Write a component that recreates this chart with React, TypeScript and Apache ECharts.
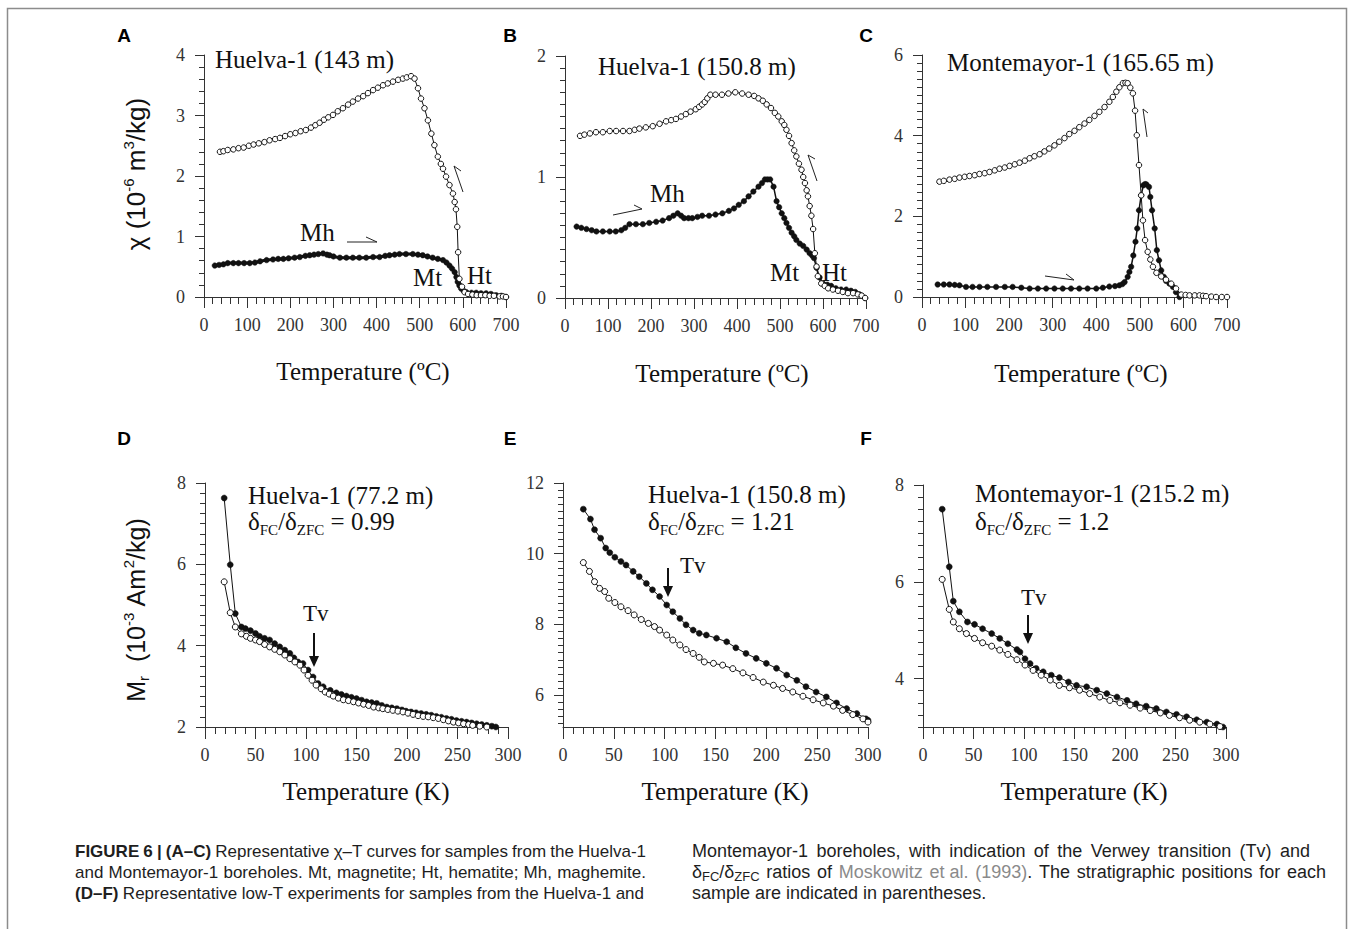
import React, { useEffect, useRef } from "react";
import * as echarts from "echarts";

const SERIF = "'Liberation Serif', 'Times New Roman', serif";
const SANS = "'Liberation Sans', Arial, Helvetica, sans-serif";
const AX = "#333";
const INK = "#111";

// ---------- tick labels ----------
const aYTicks = [0, 1, 2, 3, 4];
const bYTicks = [0, 1, 2];
const cYTicks = [0, 2, 4, 6];
const dYTicks = [2, 4, 6, 8];
const eYTicks = [6, 8, 10, 12];
const fYTicks = [4, 6, 8];

// ---------- panel A : Huelva-1 (143 m) ----------
const aCooling: [number, number][] = [
  [37,2.40],[45,2.41],[55,2.43],[68,2.44],[80,2.46],[92,2.47],[104,2.50],[115,2.52],[127,2.54],[140,2.56],
  [152,2.59],[165,2.61],[176,2.63],[188,2.66],[200,2.69],[212,2.71],[224,2.74],[236,2.76],[248,2.80],[258,2.84],
  [268,2.88],[278,2.93],[288,2.97],[299,3.01],[310,3.07],[322,3.12],[334,3.18],[345,3.23],[357,3.28],[369,3.32],
  [380,3.37],[392,3.42],[403,3.46],[415,3.50],[426,3.53],[438,3.56],[450,3.59],[461,3.61],[470,3.63],[480,3.65],
  [488,3.61],[496,3.45],[503,3.28],[511,3.12],[519,2.92],[527,2.70],[534,2.51],[542,2.32],[549,2.20],[554,2.12],
  [561,1.99],[569,1.85],[577,1.71],[581,1.57],[584,1.45],[587,1.16],[589,0.74],[592,0.30],[598,0.17],[604,0.08],
  [612,0.05],[622,0.04],[632,0.03],[642,0.03],[652,0.03],[662,0.02],[672,0.02],[685,0.01],[693,0.01],[700,0.0]
];
const aHeating: [number, number][] = [
  [25,0.52],[35,0.53],[45,0.54],[55,0.56],[68,0.56],[80,0.56],[93,0.56],[106,0.56],[118,0.57],[130,0.59],
  [145,0.61],[160,0.62],[172,0.63],[184,0.63],[196,0.64],[210,0.65],[222,0.66],[235,0.68],[245,0.69],[255,0.70],
  [265,0.71],[276,0.72],[285,0.70],[291,0.69],[300,0.67],[315,0.65],[330,0.65],[345,0.65],[360,0.65],[376,0.65],
  [392,0.66],[407,0.66],[420,0.68],[430,0.69],[442,0.70],[453,0.71],[468,0.71],[484,0.71],[496,0.70],[507,0.69],
  [518,0.67],[530,0.65],[542,0.63],[554,0.61],[562,0.57],[569,0.52],[575,0.47],[581,0.41],[585,0.33],[588,0.25],
  [592,0.19],[596,0.14],[602,0.10],[608,0.08],[620,0.07],[631,0.07],[642,0.06],[654,0.06],[665,0.05],[677,0.03],
  [689,0.02],[700,0.0]
];

// ---------- panel B : Huelva-1 (150.8 m) ----------
const bCooling: [number, number][] = [
  [35,1.34],[45,1.35],[58,1.36],[72,1.37],[88,1.37],[104,1.38],[119,1.38],[135,1.38],[150,1.38],[162,1.39],
  [173,1.40],[188,1.41],[204,1.42],[220,1.44],[235,1.46],[247,1.47],[258,1.48],[270,1.50],[281,1.52],[292,1.54],
  [304,1.56],[312,1.58],[319,1.60],[325,1.62],[331,1.65],[338,1.68],[350,1.68],[365,1.68],[380,1.69],[396,1.70],
  [412,1.69],[427,1.68],[440,1.67],[450,1.65],[460,1.63],[469,1.60],[479,1.57],[488,1.53],[496,1.50],[504,1.46],
  [510,1.43],[515,1.39],[521,1.34],[527,1.28],[533,1.22],[538,1.17],[544,1.11],[550,1.06],[554,1.00],[558,0.95],
  [562,0.89],[565,0.84],[569,0.76],[573,0.68],[577,0.57],[581,0.37],[585,0.26],[588,0.18],[596,0.12],[604,0.10],
  [612,0.08],[623,0.07],[635,0.06],[646,0.05],[658,0.04],[670,0.04],[681,0.03],[690,0.02],[698,0.0]
];
const bHeating: [number, number][] = [
  [27,0.59],[38,0.58],[50,0.57],[62,0.56],[73,0.55],[88,0.55],[104,0.55],[118,0.55],[131,0.56],[140,0.58],
  [150,0.61],[165,0.61],[181,0.61],[196,0.62],[212,0.63],[227,0.64],[242,0.66],[252,0.68],[262,0.70],[270,0.68],
  [277,0.66],[287,0.66],[296,0.66],[308,0.67],[319,0.68],[335,0.68],[350,0.69],[366,0.70],[381,0.72],[393,0.74],
  [404,0.77],[416,0.80],[427,0.84],[438,0.88],[450,0.92],[458,0.95],[465,0.98],[471,0.98],[477,0.98],[485,0.92],
  [492,0.80],[498,0.75],[504,0.70],[510,0.66],[515,0.62],[521,0.58],[527,0.54],[533,0.51],[538,0.48],[546,0.45],
  [554,0.43],[562,0.40],[569,0.37],[575,0.35],[579,0.33],[585,0.25],[592,0.17],[600,0.12],[610,0.11],[619,0.10],
  [630,0.08],[642,0.07],[654,0.07],[665,0.06],[675,0.05],[685,0.03],[698,0.0]
];

// ---------- panel C : Montemayor-1 (165.65 m) ----------
const cCooling: [number, number][] = [
  [40,2.86],[50,2.88],[63,2.91],[75,2.93],[86,2.96],[98,2.98],[109,3.00],[121,3.02],[132,3.05],[144,3.07],
  [155,3.10],[167,3.14],[178,3.18],[190,3.21],[201,3.25],[213,3.29],[224,3.33],[236,3.38],[247,3.44],[258,3.49],
  [270,3.54],[281,3.61],[292,3.68],[304,3.76],[315,3.85],[327,3.94],[338,4.04],[350,4.12],[361,4.21],[373,4.30],
  [384,4.39],[396,4.49],[407,4.59],[419,4.71],[430,4.84],[438,4.96],[446,5.09],[453,5.20],[461,5.30],[467,5.31],
  [472,5.30],[478,5.19],[484,5.05],[489,4.62],[493,4.01],[498,3.27],[503,2.52],[507,1.90],[512,1.41],[518,1.12],
  [524,0.93],[530,0.75],[538,0.60],[549,0.51],[560,0.43],[572,0.33],[583,0.21],[595,0.06],[605,0.05],[614,0.04],
  [626,0.04],[637,0.04],[645,0.03],[652,0.02],[664,0.01],[675,0.0],[688,0.0],[700,0.0]
];
const cHeating: [number, number][] = [
  [36,0.31],[50,0.31],[63,0.31],[75,0.30],[86,0.29],[101,0.25],[116,0.25],[132,0.25],[150,0.25],[170,0.25],
  [190,0.25],[208,0.25],[228,0.23],[247,0.21],[266,0.21],[285,0.21],[304,0.21],[323,0.21],[342,0.21],[361,0.21],
  [380,0.21],[400,0.21],[415,0.23],[430,0.26],[443,0.27],[453,0.29],[460,0.32],[465,0.37],[472,0.50],[476,0.62],
  [480,0.75],[485,1.03],[490,1.37],[494,1.70],[498,2.15],[503,2.52],[508,2.77],[512,2.80],[515,2.79],[521,2.73],
  [524,2.48],[528,2.15],[534,1.70],[539,1.16],[544,0.91],[549,0.66],[555,0.50],[560,0.40],[568,0.33],[576,0.25],
  [583,0.12],[591,0.0]
];

// ---------- panel D : Huelva-1 (77.2 m) ----------
const dFC: [number, number][] = [
  [19,7.63],[25,5.99],[30,4.79],[36,4.46],[40,4.42],[45,4.37],[50,4.30],[54,4.23],[59,4.18],[64,4.14],
  [69,4.05],[74,3.97],[79,3.89],[84,3.81],[88,3.70],[92,3.60],[97,3.56],[102,3.40],[107,3.23],[112,3.07],
  [117,2.99],[124,2.90],[130,2.84],[135,2.80],[140,2.76],[145,2.73],[150,2.70],[155,2.66],[160,2.62],[165,2.60],
  [170,2.58],[175,2.53],[180,2.49],[185,2.47],[190,2.45],[195,2.42],[199,2.39],[204,2.37],[209,2.35],[214,2.33],
  [219,2.31],[224,2.29],[229,2.26],[234,2.24],[239,2.21],[244,2.19],[249,2.16],[254,2.14],[259,2.12],[264,2.10],
  [269,2.08],[274,2.06],[279,2.04],[284,2.02],[288,2.00]
];
const dZFC: [number, number][] = [
  [19,5.57],[25,4.81],[30,4.46],[36,4.29],[41,4.23],[45,4.18],[50,4.14],[54,4.10],[59,4.03],[64,3.97],
  [69,3.91],[74,3.85],[79,3.77],[84,3.68],[89,3.60],[94,3.52],[98,3.40],[102,3.27],[106,3.15],[110,3.03],
  [115,2.94],[119,2.86],[123,2.81],[127,2.76],[132,2.71],[137,2.67],[142,2.65],[147,2.62],[152,2.59],[157,2.56],
  [162,2.53],[167,2.49],[172,2.47],[176,2.45],[181,2.43],[186,2.41],[191,2.39],[196,2.37],[201,2.34],[206,2.31],
  [211,2.28],[216,2.26],[221,2.25],[226,2.23],[231,2.21],[236,2.18],[241,2.15],[246,2.12],[251,2.10],[256,2.08],
  [261,2.06],[265,2.04],[272,2.02],[279,2.00]
];

// ---------- panel E : Huelva-1 (150.8 m) ----------
const eFC: [number, number][] = [
  [20,11.26],[27,10.98],[31,10.68],[37,10.44],[42,10.16],[46,10.03],[51,9.90],[57,9.78],[62,9.68],[69,9.50],
  [75,9.35],[82,9.16],[88,8.98],[95,8.79],[102,8.55],[108,8.36],[115,8.17],[121,7.99],[128,7.84],[134,7.75],
  [141,7.70],[151,7.61],[161,7.51],[170,7.34],[180,7.18],[190,7.04],[200,6.90],[210,6.76],[220,6.57],[230,6.42],
  [239,6.24],[249,6.09],[259,5.95],[269,5.78],[279,5.62],[289,5.48],[298,5.33],[300,5.29]
];
const eZFC: [number, number][] = [
  [20,9.75],[26,9.50],[31,9.21],[36,9.02],[41,8.93],[45,8.74],[51,8.62],[57,8.50],[64,8.39],[70,8.27],
  [77,8.14],[84,8.03],[90,7.94],[95,7.84],[102,7.70],[108,7.56],[115,7.42],[121,7.29],[128,7.18],[134,7.07],
  [139,6.94],[148,6.90],[157,6.85],[167,6.75],[177,6.63],[187,6.50],[197,6.37],[207,6.28],[216,6.19],[226,6.09],
  [236,5.97],[246,5.87],[256,5.78],[266,5.69],[275,5.57],[285,5.45],[295,5.33],[300,5.24]
];

// ---------- panel F : Montemayor-1 (215.2 m) ----------
const fFC: [number, number][] = [
  [19,7.50],[26,6.31],[30,5.60],[36,5.38],[44,5.17],[51,5.12],[59,5.03],[68,4.93],[76,4.83],[84,4.72],
  [93,4.60],[96,4.55],[101,4.41],[106,4.31],[112,4.21],[119,4.14],[127,4.07],[135,4.02],[144,3.93],[152,3.86],
  [162,3.83],[172,3.76],[182,3.69],[192,3.62],[202,3.55],[211,3.48],[221,3.43],[231,3.38],[241,3.31],[251,3.26],
  [261,3.21],[271,3.15],[281,3.10],[291,3.06],[297,3.00]
];
const fZFC: [number, number][] = [
  [19,6.05],[26,5.43],[30,5.17],[36,5.03],[43,4.93],[51,4.83],[59,4.74],[68,4.67],[76,4.59],[84,4.50],
  [93,4.39],[101,4.28],[109,4.17],[117,4.07],[126,3.97],[135,3.86],[145,3.81],[155,3.76],[165,3.69],[175,3.62],
  [185,3.55],[195,3.50],[205,3.45],[215,3.39],[225,3.34],[235,3.29],[244,3.24],[254,3.19],[264,3.14],[274,3.10],
  [284,3.06],[294,3.01]
];

// ---------- caption ----------
const captionLines: { x: number; y: number; end: number | null; size: number; words: string[] }[] = [
  { x: 75, y: 851, end: 646, size: 17, words: ["{b|FIGURE}", "{b|6}", "{b||}", "{b|(A–C)}", ..."Representative χ–T curves for samples from the Huelva-1".split(" ")] },
  { x: 75, y: 872, end: 646, size: 17, words: "and Montemayor-1 boreholes. Mt, magnetite; Ht, hematite; Mh, maghemite.".split(" ") },
  { x: 75, y: 893, end: 644, size: 17, words: ["{b|(D–F)}", ..."Representative low-T experiments for samples from the Huelva-1 and".split(" ")] },
  { x: 692, y: 851, end: 1310, size: 18, words: "Montemayor-1 boreholes, with indication of the Verwey transition (Tv) and".split(" ") },
  { x: 692, y: 872, end: 1326, size: 18, words: ["δ{s|FC}/δ{s|ZFC}", "ratios", "of", "{g|Moskowitz}", "{g|et al.}", "{g|(1993)}.", ..."The stratigraphic positions for each".split(" ")] },
  { x: 692, y: 893, end: null, size: 18, words: "sample are indicated in parentheses.".split(" ") },
];

type Panel = {
  grid: { left: number; top: number; width: number; height: number };
  xMax: number; xStep: number; xMajorLen: number;
  yMin: number; yMax: number; yTicks: number[]; yMinorStep: number;
  open: [number, number][]; filled: [number, number][];
  sym: number; filledWidth: number;
};

const PANELS: Panel[] = [
  { grid: { left: 204, top: 55, width: 302, height: 242 }, xMax: 700, xStep: 100, xMajorLen: 11,
    yMin: 0, yMax: 4, yTicks: aYTicks, yMinorStep: 0.2, open: aCooling, filled: aHeating, sym: 5.5, filledWidth: 3 },
  { grid: { left: 565, top: 56, width: 301, height: 242 }, xMax: 700, xStep: 100, xMajorLen: 11,
    yMin: 0, yMax: 2, yTicks: bYTicks, yMinorStep: 0.1, open: bCooling, filled: bHeating, sym: 5.5, filledWidth: 1.5 },
  { grid: { left: 922, top: 55, width: 305, height: 242 }, xMax: 700, xStep: 100, xMajorLen: 11,
    yMin: 0, yMax: 6, yTicks: cYTicks, yMinorStep: 0.2, open: cCooling, filled: cHeating, sym: 5.5, filledWidth: 1.5 },
  { grid: { left: 205, top: 483, width: 303, height: 244 }, xMax: 300, xStep: 50, xMajorLen: 12,
    yMin: 2, yMax: 8, yTicks: dYTicks, yMinorStep: 0.25, open: dZFC, filled: dFC, sym: 6, filledWidth: 1 },
  { grid: { left: 563, top: 483, width: 305, height: 244 }, xMax: 300, xStep: 50, xMajorLen: 12,
    yMin: 5.1, yMax: 12, yTicks: eYTicks, yMinorStep: 0.2, open: eZFC, filled: eFC, sym: 6, filledWidth: 1 },
  { grid: { left: 923, top: 485, width: 303, height: 242 }, xMax: 300, xStep: 50, xMajorLen: 12,
    yMin: 3, yMax: 8, yTicks: fYTicks, yMinorStep: 0.25, open: fZFC, filled: fFC, sym: 6, filledWidth: 1 },
];

function minorValues(min: number, max: number, step: number): number[] {
  const out: number[] = [];
  const start = Math.ceil(min / step - 1e-9) * step;
  for (let v = start; v <= max + 1e-9; v += step) out.push(Math.round(v * 1000) / 1000);
  return out;
}

const CAP_COLOR = "#1e1e1e";
function capFonts(size: number): Record<string, string> {
  const sub = Math.round(size * 0.7);
  return {
    "": `${size}px ${SANS}`,
    b: `bold ${size}px ${SANS}`,
    s: `${sub}px ${SANS}`,
    g: `${size}px ${SANS}`,
  };
}
let measureCtx: CanvasRenderingContext2D | null = null;
function getCtx(): CanvasRenderingContext2D {
  if (!measureCtx) measureCtx = document.createElement("canvas").getContext("2d");
  return measureCtx as CanvasRenderingContext2D;
}
function measureWord(word: string, fonts: Record<string, string>): number {
  const ctx = getCtx();
  const re = /\{(\w+)\|([^}]*)\}|([^{]+)/g;
  let m: RegExpExecArray | null;
  let w = 0;
  while ((m = re.exec(word))) {
    const style = m[1] || "";
    const text = m[1] ? m[2] : m[3];
    ctx.font = fonts[style] || fonts[""];
    w += ctx.measureText(text).width;
  }
  return w;
}

function buildCaption(): any[] {
  const els: any[] = [];
  const ctx = getCtx();
  captionLines.forEach((line) => {
    const size = line.size;
    const sub = Math.round(size * 0.7);
    const fonts = capFonts(size);
    const rich = {
      b: { fontFamily: SANS, fontSize: size, fontWeight: "bold", fill: CAP_COLOR },
      s: { fontFamily: SANS, fontSize: sub, verticalAlign: "bottom", fill: CAP_COLOR },
      g: { fontFamily: SANS, fontSize: size, fill: "#8a8a8a" },
    };
    ctx.font = fonts[""];
    const space = ctx.measureText(" ").width;
    const widths = line.words.map((w) => measureWord(w, fonts));
    const total = widths.reduce((a, b) => a + b, 0);
    const gaps = line.words.length - 1;
    const gap = line.end != null && gaps > 0 ? (line.end - line.x - total) / gaps : space;
    let x = line.x;
    line.words.forEach((w, k) => {
      els.push({
        type: "text", x, y: line.y, silent: true, z: 10,
        style: { text: w, fontFamily: SANS, fontSize: size, lineHeight: 22, fill: CAP_COLOR, align: "left", verticalAlign: "middle", rich },
      });
      x += widths[k] + gap;
    });
  });
  return els;
}

function buildOption() {
  const grid: any[] = [];
  const xAxis: any[] = [];
  const yAxis: any[] = [];
  const series: any[] = [];
  const lineStyle = { color: AX, width: 1 };

  PANELS.forEach((p, i) => {
    grid.push({ ...p.grid, containLabel: false });
    xAxis.push({
      type: "value", gridIndex: i, min: 0, max: p.xMax, interval: p.xStep,
      axisLine: { show: true, onZero: false, lineStyle },
      axisTick: { show: true, length: p.xMajorLen, lineStyle },
      minorTick: { show: true, splitNumber: 5, length: 7, lineStyle },
      splitLine: { show: false }, minorSplitLine: { show: false },
      axisLabel: { fontFamily: SERIF, fontSize: 18, color: "#333", margin: 19 },
    });
    yAxis.push({
      type: "value", gridIndex: i, position: "left", offset: 0, min: p.yMin, max: p.yMax,
      axisLine: { show: true, onZero: false, lineStyle },
      axisTick: { show: true, length: 9, lineStyle, customValues: p.yTicks },
      axisLabel: { fontFamily: SERIF, fontSize: 18, color: "#333", margin: 19, customValues: p.yTicks },
      splitLine: { show: false },
    });
    yAxis.push({
      type: "value", gridIndex: i, position: "left", offset: 0, min: p.yMin, max: p.yMax,
      axisLine: { show: false },
      axisTick: { show: true, length: 5, lineStyle, customValues: minorValues(p.yMin, p.yMax, p.yMinorStep) },
      axisLabel: { show: false },
      splitLine: { show: false },
    });
    series.push({
      type: "line", xAxisIndex: i, yAxisIndex: 2 * i, data: p.filled,
      symbol: "circle", symbolSize: p.sym, showSymbol: true, silent: true,
      lineStyle: { color: INK, width: p.filledWidth },
      itemStyle: { color: INK, borderColor: INK, borderWidth: 0.5 }, z: 3,
    });
    series.push({
      type: "line", xAxisIndex: i, yAxisIndex: 2 * i, data: p.open,
      symbol: "circle", symbolSize: p.sym, showSymbol: true, silent: true,
      lineStyle: { color: INK, width: 1 },
      itemStyle: { color: "#fff", borderColor: INK, borderWidth: 1 }, z: 4,
    });
  });

  const T = (x: number, y: number, text: string, size: number, extra: any = {}) => ({
    type: "text", x, y, silent: true, z: 10,
    style: {
      text, fontFamily: SERIF, fontSize: size, fill: INK,
      align: "left", verticalAlign: "middle", ...extra,
    },
  });
  const half = (pts: number[][]) => ({
    type: "polyline", silent: true, z: 10,
    shape: { points: pts }, style: { stroke: "#222", lineWidth: 1, fill: null },
  });
  const tv = (x: number, y0: number, y1: number) => [
    { type: "line", silent: true, z: 10, shape: { x1: x, y1: y0, x2: x, y2: y1 - 8 }, style: { stroke: INK, lineWidth: 2 } },
    { type: "polygon", silent: true, z: 10, shape: { points: [[x - 5, y1 - 11], [x + 5, y1 - 11], [x, y1]] }, style: { fill: INK } },
  ];

  const deltaRich = {
    s: { fontFamily: SERIF, fontSize: 15, verticalAlign: "bottom", fill: INK },
  };
  const yTitleRich = {
    p: { fontFamily: SANS, fontSize: 15, verticalAlign: "top", fill: INK },
    s: { fontFamily: SANS, fontSize: 15, verticalAlign: "bottom", fill: INK },
  };
  const letter = (x: number, y: number, t: string) => ({
    type: "text", x, y, silent: true, z: 10,
    style: { text: t, fontFamily: SANS, fontSize: 19, fontWeight: "bold", fill: "#000", align: "center", verticalAlign: "middle" },
  });

  const graphic: any[] = [
    { type: "polyline", silent: true, shape: { points: [[7.5, 935], [7.5, 8.5], [1346.5, 8.5], [1346.5, 935]] }, style: { stroke: "#8c8c8c", lineWidth: 1.5, fill: null } },
    letter(124, 35, "A"), letter(510, 35, "B"), letter(866, 35, "C"),
    letter(124, 438, "D"), letter(510, 438, "E"), letter(866, 438, "F"),

    T(215, 59, "Huelva-1 (143 m)", 25),
    T(598, 66, "Huelva-1 (150.8 m)", 25),
    T(947, 62, "Montemayor-1 (165.65 m)", 25),
    T(300, 232, "Mh", 25), T(413, 277, "Mt", 25), T(467, 275, "Ht", 25),
    T(650, 193, "Mh", 25), T(770, 272, "Mt", 25), T(822, 272, "Ht", 25),
    half([[347, 242], [377, 242], [366, 237]]),
    half([[463, 192], [454, 166], [461, 171]]),
    half([[613, 215], [642, 209], [634, 205]]),
    half([[817, 181], [808, 155], [815, 159]]),
    half([[1045, 276], [1074, 280], [1066, 274]]),
    half([[1147, 137], [1143, 109], [1148, 113]]),

    T(248, 495, "Huelva-1 (77.2 m)", 25),
    T(248, 521, "δ{s|FC}/δ{s|ZFC} = 0.99", 25, { lineHeight: 32, rich: deltaRich }),
    T(648, 494, "Huelva-1 (150.8 m)", 25),
    T(648, 521, "δ{s|FC}/δ{s|ZFC} = 1.21", 25, { lineHeight: 32, rich: deltaRich }),
    T(975, 493, "Montemayor-1 (215.2 m)", 25),
    T(975, 521, "δ{s|FC}/δ{s|ZFC} = 1.2", 25, { lineHeight: 32, rich: deltaRich }),
    T(303, 613, "Tv", 23), ...tv(314, 633, 667),
    T(680, 565, "Tv", 23), ...tv(668, 568, 597),
    T(1021, 597, "Tv", 23), ...tv(1028, 615, 644),

    T(363, 371, "Temperature (ºC)", 25, { align: "center" }),
    T(722, 373, "Temperature (ºC)", 25, { align: "center" }),
    T(1081, 373, "Temperature (ºC)", 25, { align: "center" }),
    T(366, 791, "Temperature (K)", 25, { align: "center" }),
    T(725, 791, "Temperature (K)", 25, { align: "center" }),
    T(1084, 791, "Temperature (K)", 25, { align: "center" }),

    {
      type: "text", x: 136, y: 174, rotation: Math.PI / 2, silent: true, z: 10,
      style: { text: "χ (10{p|-6} m{p|3}/kg)", fontFamily: SANS, fontSize: 26, lineHeight: 30, fill: INK, align: "center", verticalAlign: "middle", rich: yTitleRich },
    },
    {
      type: "text", x: 136, y: 610, rotation: Math.PI / 2, silent: true, z: 10,
      style: { text: "M{s|r}  (10{p|-3} Am{p|2}/kg)", fontFamily: SANS, fontSize: 25, lineHeight: 30, fill: INK, align: "center", verticalAlign: "middle", rich: yTitleRich },
    },
    ...buildCaption(),
  ];

  return {
    animation: false,
    backgroundColor: "#ffffff",
    grid, xAxis, yAxis, series, graphic,
  };
}

export default function App() {
  const ref = useRef<HTMLDivElement>(null);
  useEffect(() => {
    if (!ref.current) return;
    const chart = echarts.init(ref.current, null, { renderer: "svg" });
    chart.setOption(buildOption() as any);
    return () => chart.dispose();
  }, []);
  return (
    <div
      ref={ref}
      style={{ position: "absolute", left: 0, top: 0, width: 1349, height: 929, background: "#fff" }}
    />
  );
}
